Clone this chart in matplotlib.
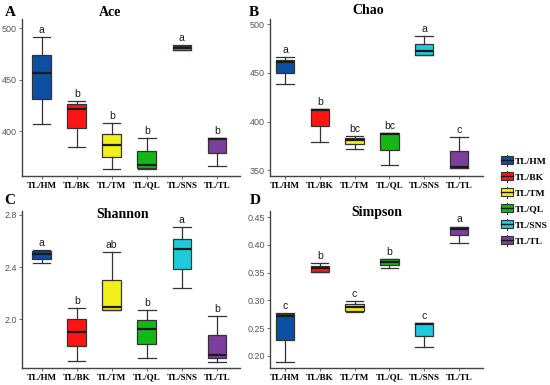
import numpy as np
import matplotlib
matplotlib.use("Agg")
from matplotlib import pyplot as plt
from matplotlib.patches import Rectangle, Patch
from matplotlib.lines import Line2D
from matplotlib.legend_handler import HandlerBase

groups = ['TL/HM', 'TL/BK', 'TL/TM', 'TL/QL', 'TL/SNS', 'TL/TL']
colors = ['#0b4ea2', '#ff1414', '#f2ef1a', '#14b814', '#1dcbdc', '#7b3f9e']

# each row: whisker low, Q1, median, Q3, whisker high
ace = [[407, 431.5, 456.5, 474, 491.5],
       [385, 403.7, 422, 426.4, 429.6],
       [364, 375, 386.6, 397.3, 408],
       [363.6, 364.6, 367, 380.8, 394],
       [478.5, 479.4, 481, 482.7, 483.5],
       [366.5, 379, 392.4, 393.4, 393.4]]
chao = [[439, 450.3, 461.3, 463.3, 466],
        [379.3, 395.8, 412, 412.6, 412.6],
        [371.5, 377, 381.4, 383.5, 385.2],
        [355.7, 371, 387.5, 388, 388],
        [468.5, 468.8, 472.9, 480, 488],
        [352, 352, 353.7, 369.5, 384]]
shannon = [[2.435, 2.46, 2.499, 2.526, 2.53],
           [1.683, 1.796, 1.90, 2.0, 2.09],
           [2.07, 2.072, 2.093, 2.30, 2.514],
           [1.704, 1.811, 1.926, 1.995, 2.07],
           [2.24, 2.386, 2.537, 2.618, 2.71],
           [1.676, 1.704, 1.73, 1.878, 2.028]]
simpson = [[0.189, 0.2285, 0.272, 0.2755, 0.2767],
           [0.351, 0.351, 0.3585, 0.362, 0.368],
           [0.2785, 0.281, 0.2886, 0.294, 0.2995],
           [0.358, 0.3633, 0.369, 0.374, 0.374],
           [0.216, 0.2363, 0.2574, 0.259, 0.259],
           [0.403, 0.4175, 0.428, 0.433, 0.433]]

ace_letters = ['a', 'b', 'b', 'b', 'a', 'b']
chao_letters = ['a', 'b', 'bc', 'bc', 'a', 'c']
shannon_letters = ['a', 'b', 'ab', 'b', 'a', 'b']
simpson_letters = ['c', 'b', 'c', 'b', 'c', 'a']

SERIF = 'Liberation Serif'
SANS = 'Liberation Sans'
EDGE = '#333333'

W, H = 550, 385
fig = plt.figure(figsize=(W / 100, H / 100), dpi=100)


def px_axes(left, top, right, bottom):
    return fig.add_axes([left / W, 1 - bottom / H, (right - left) / W, (bottom - top) / H])


def draw_panel(ax, data, letters, ylim, yticks, fmt, xlim):
    stats = []
    for g, row in zip(groups, data):
        stats.append(dict(label=g, whislo=row[0], q1=row[1], med=row[2],
                          q3=row[3], whishi=row[4], fliers=[]))
    bp = ax.bxp(stats, positions=np.arange(1, 7), widths=0.53, patch_artist=True,
                capwidths=0.5,
                boxprops=dict(edgecolor=EDGE, linewidth=0.9),
                medianprops=dict(color='#1a1a1a', linewidth=1.6),
                whiskerprops=dict(color=EDGE, linewidth=0.9),
                capprops=dict(color=EDGE, linewidth=0.9))
    for box, c in zip(bp['boxes'], colors):
        box.set_facecolor(c)
    for i, (row, lab) in enumerate(zip(data, letters)):
        ax.annotate(lab, (i + 1, row[4]), xytext=(0, 1.5), textcoords='offset points',
                    ha='center', va='bottom', fontsize=7.5, family=SANS, color='#1a1a1a')
    ax.set_xlim(*xlim)
    ax.set_ylim(*ylim)
    ax.set_yticks(yticks)
    ax.set_yticklabels([fmt.format(v) for v in yticks])
    ax.set_xticks(np.arange(1, 7))
    ax.set_xticklabels(groups, fontfamily=SERIF, fontweight='bold', fontsize=6.5)
    for lbl in ax.get_yticklabels():
        lbl.set_fontfamily(SANS)
    ax.tick_params(axis='y', labelsize=6.5, colors='#555555', length=2, width=0.6, pad=1.5)
    ax.tick_params(axis='x', labelcolor='black', colors='#555555', length=2, width=0.6, pad=2)
    for s in ['top', 'right']:
        ax.spines[s].set_visible(False)
    for s in ['left', 'bottom']:
        ax.spines[s].set_color('#444444')
        ax.spines[s].set_linewidth(1.0)


axA = px_axes(22, 19, 240, 176)
axB = px_axes(270, 19, 483, 176)
axC = px_axes(22, 211, 240, 368)
axD = px_axes(270, 211, 483, 368)

draw_panel(axA, ace, ace_letters, (356.8, 509), [400, 450, 500], '{:.0f}', (0.44, 6.66))
draw_panel(axB, chao, chao_letters, (344.1, 505.4), [350, 400, 450, 500], '{:.0f}', (0.57, 6.69))
draw_panel(axC, shannon, shannon_letters, (1.628, 2.83), [2.0, 2.4, 2.8], '{:.1f}', (0.44, 6.66))
draw_panel(axD, simpson, simpson_letters, (0.178, 0.461),
           [0.20, 0.25, 0.30, 0.35, 0.40, 0.45], '{:.2f}', (0.57, 6.69))

# panel titles and letters
for txt, x, y in [('Ace', 110, 12), ('Chao', 368, 11), ('Shannon', 123, 214), ('Simpson', 377, 213)]:
    fig.text(x / W, 1 - y / H, txt, ha='center', va='center', family=SERIF,
             fontweight='bold', fontsize=10)
for txt, x, y in [('A', 10, 12), ('B', 254, 12), ('C', 10, 201), ('D', 255, 201)]:
    fig.text(x / W, 1 - y / H, txt, ha='center', va='center', family=SERIF,
             fontweight='bold', fontsize=11)


class BoxHandler(HandlerBase):
    def create_artists(self, legend, orig_handle, xdescent, ydescent, width, height,
                       fontsize, trans):
        x0, y0 = -xdescent, -ydescent
        cx = x0 + width / 2
        rect = Rectangle((x0, y0), width, height, facecolor=orig_handle.get_facecolor(),
                         edgecolor=EDGE, linewidth=0.8, transform=trans)
        med = Line2D([x0, x0 + width], [y0 + height / 2] * 2, color='#1a1a1a',
                     linewidth=1.0, transform=trans)
        wlo = Line2D([cx, cx], [y0 - height * 0.2, y0], color=EDGE, linewidth=0.8,
                     transform=trans)
        whi = Line2D([cx, cx], [y0 + height, y0 + height * 1.2], color=EDGE, linewidth=0.8,
                     transform=trans)
        return [rect, med, wlo, whi]


handles = [Patch(facecolor=c) for c in colors]
fig.legend(handles, groups, handler_map={Patch: BoxHandler()},
           loc='center left', bbox_to_anchor=(496 / W, 1 - 201 / H), frameon=False,
           prop=dict(family=SERIF, weight='bold', size=6.8), handlelength=1.25,
           handleheight=0.9, handletextpad=0.3, labelspacing=0.72, borderpad=0)

fig.savefig('out.png', dpi=100)
